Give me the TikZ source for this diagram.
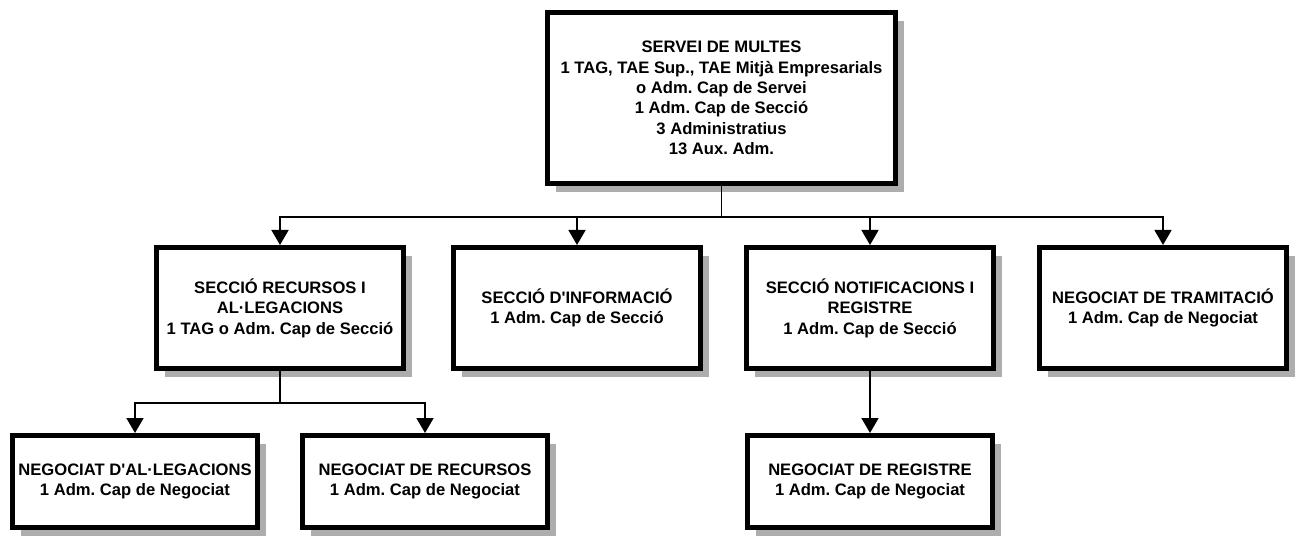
\documentclass[tikz,border=0pt]{standalone}
\usepackage{fontspec}
\setmainfont{Liberation Sans}
\usetikzlibrary{arrows.meta,shadows}
\frenchspacing
\begin{document}
\begin{tikzpicture}[x=0.5pt,y=-0.5pt,
  box/.style={draw, line width=2.3pt, fill=white, align=center,
    font=\frenchspacing\bfseries\fontsize{8.3}{10.2}\selectfont, inner sep=0pt,
    drop shadow={shadow xshift=4.3pt, shadow yshift=-4.3pt, fill=black!32, opacity=1}},
  topbox/.style={box, minimum width=174.2pt, minimum height=85.7pt},
  midbox/.style={box, minimum width=123.7pt, minimum height=60.7pt},
  lowbox/.style={box, minimum width=122.7pt, minimum height=46.2pt},
  conn/.style={line width=0.8pt},
  arr/.style={conn, -{Triangle[width=8.5pt,length=7.5pt]}}]
\useasboundingbox (0,0) rectangle (1304,539);

\node[topbox] (top) at (721.5,98) {SERVEI DE MULTES\\1 TAG, TAE Sup., TAE Mitjà Empresarials\\o Adm. Cap de Servei\\1 Adm. Cap de Secció\\3 Administratius\\13 Aux. Adm.};

\node[midbox] (b1) at (280,308) {SECCIÓ RECURSOS I\\AL·LEGACIONS\\1 TAG o Adm. Cap de Secció};
\node[midbox] (b2) at (577,308) {SECCIÓ D\textquotesingle INFORMACIÓ\\1 Adm. Cap de Secció};
\node[midbox] (b3) at (870,308) {SECCIÓ NOTIFICACIONS I\\REGISTRE\\1 Adm. Cap de Secció};
\node[midbox] (b4) at (1163,308) {NEGOCIAT DE TRAMITACIÓ\\1 Adm. Cap de Negociat};

\node[lowbox] (c1) at (135,481.5) {NEGOCIAT D\textquotesingle AL·LEGACIONS\\1 Adm. Cap de Negociat};
\node[lowbox] (c2) at (425,481.5) {NEGOCIAT DE RECURSOS\\1 Adm. Cap de Negociat};
\node[lowbox] (c3) at (870,481.5) {NEGOCIAT DE REGISTRE\\1 Adm. Cap de Negociat};

\coordinate (j1) at (721.5,217);
\coordinate (j2) at (280,403);

\draw[conn] (top.south) -- (j1);
\draw[arr] (j1) -| (b1.north);
\draw[arr] (j1) -| (b2.north);
\draw[arr] (j1) -| (b3.north);
\draw[arr] (j1) -| (b4.north);

\draw[conn] (b1.south) -- (j2);
\draw[arr] (j2) -| (c1.north);
\draw[arr] (j2) -| (c2.north);

\draw[arr] (b3.south) -- (c3.north);
\end{tikzpicture}
\end{document}
